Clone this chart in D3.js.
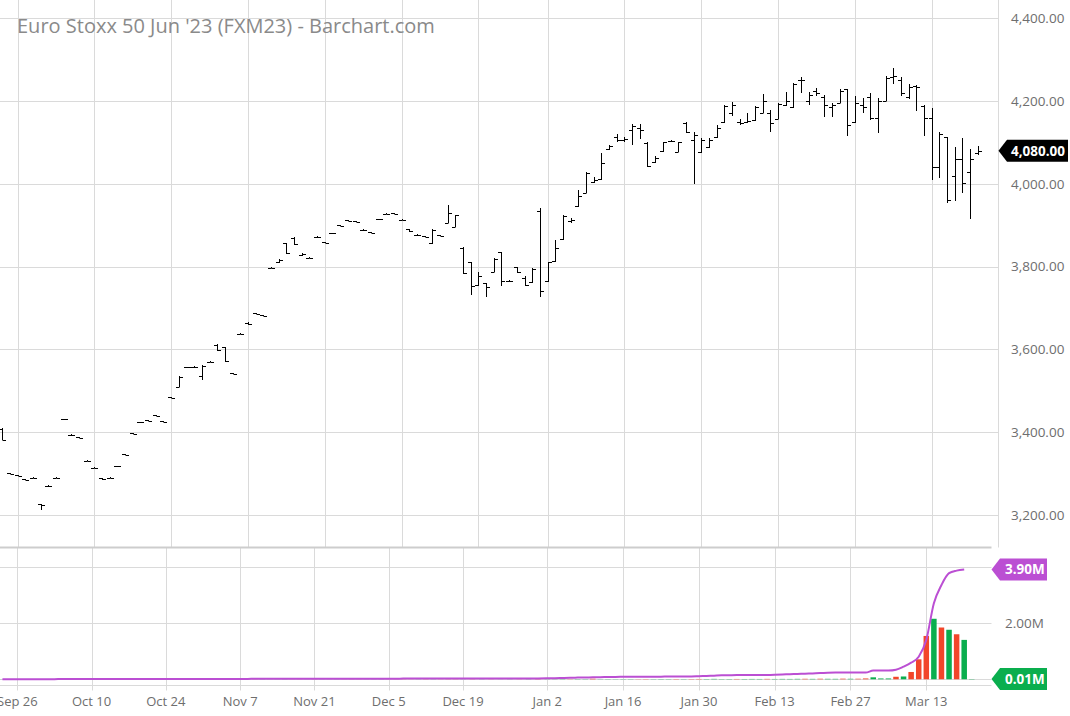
<!DOCTYPE html>
<html><head><meta charset="utf-8">
<script src="https://cdn.jsdelivr.net/npm/d3@7/dist/d3.min.js"></script>
<style>
html,body{margin:0;padding:0;background:#fff;}
svg{display:block;font-family:"Open Sans",sans-serif;}
</style></head>
<body><svg id="chart" width="1070" height="716"></svg>
<script>
// ---------- DATA ----------
const title = "Euro Stoxx 50 Jun '23 (FXM23) - Barchart.com";
const tickLabels = ["Sep 26","Oct 10","Oct 24","Nov 7","Nov 21","Dec 5","Dec 19","Jan 2","Jan 16","Jan 30","Feb 13","Feb 27","Mar 13"];
const tickBarIndex = [2,12,22,32,42,52,62,71,81,91,101,111,121];
const priceTicks = [3200,3400,3600,3800,4000,4200,4400];
const volumeTicks = [2];
const lastPrice = 4080;
const lastOI = 3.90;
const lastVolume = 0.01;

const open = [3407,3301,3296,3286,3289,3225,3270,3289,3431,3394,3388,3331,3314,3288,3290,3318,3346,3397,3424,3428,
3441,3426,3484,3510,3557,3558,3535,3570,3610,3605,3542,3638,3664,3687,3682,3797,3810,3856,3870,3828,
3821,3872,3859,3881,3900,3912,3909,3889,3883,3915,3928,3929,3913,3890,3877,3873,3857,3876,3906,3896,
3845,3810,3756,3760,3788,3835,3766,3799,3773,3762,3935,3764,3813,3866,3910,3946,3978,4005,4012,4083,
4112,4105,4130,4135,4098,4052,4080,4103,4078,4148,4105,4078,4090,4112,4150,4170,4150,4150,4155,4172,
4172,4157,4190,4185,4250,4200,4225,4210,4185,4196,4228,4150,4190,4210,4160,4200,4258,4250,4210,4236,
4188,4158,4040,4112,4019,4060,4028,4075];
const high = [3409,3302,3297,3287,3291,3227,3271,3291,3432,3395,3389,3332,3315,3289,3291,3319,3347,3398,3425,3429,
3442,3427,3485,3535,3558,3559,3561,3571,3612,3606,3543,3639,3666,3688,3683,3798,3819,3858,3872,3833,
3822,3873,3860,3882,3901,3913,3910,3890,3884,3916,3929,3930,3914,3891,3878,3874,3890,3877,3949,3925,
3847,3811,3786,3761,3820,3836,3767,3800,3776,3797,3941,3812,3865,3925,3917,3985,4028,4016,4074,4094,
4120,4112,4145,4145,4100,4066,4102,4106,4102,4150,4124,4111,4111,4143,4191,4197,4156,4171,4187,4218,
4179,4195,4221,4243,4259,4221,4232,4215,4195,4229,4229,4211,4207,4219,4207,4261,4280,4259,4242,4239,
4191,4183,4126,4114,4089,4110,4084,4092];
const low = [3380,3298,3293,3283,3288,3212,3268,3288,3430,3391,3385,3329,3312,3285,3288,3316,3344,3395,3423,3426,
3439,3424,3482,3509,3556,3556,3527,3569,3595,3569,3540,3637,3658,3685,3680,3796,3809,3831,3853,3825,
3820,3870,3857,3879,3898,3910,3907,3887,3881,3914,3926,3927,3912,3884,3875,3871,3855,3874,3905,3895,
3782,3732,3752,3726,3787,3752,3763,3784,3753,3760,3727,3762,3812,3865,3905,3944,3977,4002,4010,4082,
4100,4102,4094,4108,4040,4050,4078,4100,4076,4122,4000,4074,4086,4111,4147,4163,4142,4147,4151,4171,
4126,4156,4187,4183,4219,4191,4213,4161,4161,4195,4116,4147,4171,4155,4123,4199,4240,4211,4205,4177,
4115,4010,4014,3953,3958,3977,3915,4070];
const close = [3381,3299,3294,3284,3290,3224,3269,3290,3431,3392,3386,3330,3313,3286,3289,3317,3345,3396,3424,3427,
3440,3425,3483,3534,3557,3557,3559,3570,3598,3571,3541,3638,3660,3686,3681,3797,3817,3833,3855,3831,
3821,3871,3858,3880,3899,3911,3908,3888,3882,3915,3927,3928,3913,3885,3876,3872,3888,3875,3930,3924,
3785,3752,3777,3750,3818,3765,3765,3786,3756,3795,3740,3810,3845,3923,3912,3970,4025,4010,4050,4092,
4105,4108,4140,4130,4042,4062,4100,4104,4100,4125,4118,4105,4105,4135,4188,4190,4147,4152,4185,4200,
4147,4192,4200,4240,4250,4215,4220,4190,4190,4225,4141,4195,4185,4160,4200,4255,4260,4220,4235,4234,
4160,4040,4120,3960,4061,4002,4060,4080];
// volume and open interest, millions of contracts
const volume = [0.003,0.002,0.004,0.003,0.002,0.005,0.003,0.002,0.004,0.003,
0.002,0.003,0.004,0.002,0.003,0.004,0.002,0.003,0.005,0.003,
0.004,0.002,0.003,0.005,0.004,0.002,0.003,0.004,0.003,0.005,
0.003,0.004,0.002,0.003,0.004,0.006,0.003,0.004,0.005,0.003,
0.004,0.003,0.005,0.004,0.003,0.004,0.003,0.005,0.004,0.003,
0.004,0.005,0.003,0.004,0.005,0.003,0.004,0.006,0.005,0.004,
0.006,0.005,0.004,0.006,0.005,0.004,0.003,0.005,0.004,0.006,
0.008,0.006,0.005,0.007,0.006,0.008,0.007,0.02,0.006,0.007,
0.006,0.008,0.007,0.006,0.008,0.007,0.009,0.008,0.01,0.008,
0.009,0.012,0.01,0.015,0.009,0.01,0.012,0.011,0.013,0.012,
0.015,0.012,0.014,0.013,0.016,0.018,0.015,0.02,0.017,0.016,
0.022,0.018,0.02,0.03,0.07,0.03,0.03,0.09,0.10,0.26,
0.71,1.54,2.15,1.84,1.76,1.60,1.40,0.01];
const openInterest = [0.004,0.004,0.005,0.005,0.005,0.006,0.006,0.006,0.007,0.007,
0.007,0.008,0.008,0.008,0.009,0.009,0.01,0.01,0.01,0.011,
0.011,0.011,0.012,0.012,0.012,0.013,0.013,0.013,0.014,0.014,
0.014,0.015,0.015,0.015,0.016,0.016,0.016,0.017,0.017,0.017,
0.018,0.018,0.018,0.019,0.019,0.02,0.02,0.02,0.021,0.021,
0.022,0.022,0.023,0.023,0.024,0.024,0.025,0.025,0.026,0.026,
0.027,0.027,0.028,0.028,0.029,0.029,0.03,0.032,0.03,0.03,
0.032,0.034,0.036,0.045,0.055,0.06,0.065,0.07,0.075,0.08,
0.085,0.09,0.092,0.093,0.094,0.095,0.095,0.096,0.097,0.098,
0.1,0.11,0.12,0.13,0.14,0.145,0.15,0.15,0.15,0.15,
0.155,0.16,0.17,0.18,0.19,0.2,0.21,0.22,0.235,0.24,
0.24,0.24,0.24,0.24,0.31,0.31,0.31,0.34,0.45,0.59,
0.8,1.4,2.7,3.35,3.77,3.86,3.9];

// ---------- LAYOUT ----------
const svg = d3.select("#chart");
const topRight = 998.5, topBottom = 547.5;
const botTop = 547.5, botRight = 991.5, botAxisY = 685.5;
const gridColor = "#dadada", textColor = "#6e6e6e";
const upColor = "#0aae4e", downColor = "#f2462a", oiColor = "#bb4fd3";

const x = d3.scaleLinear().domain([0, 127]).range([2.14, 977.8]);
const y = d3.scaleLinear().domain([3200, 4400]).range([514.8, 18.3]);
const xb = d3.scaleLinear().domain([2, 62, 71, 121]).range([17.3, 463, 547.3, 926.3]);
const yv = d3.scaleLinear().domain([0, 4]).range([679.3, 566.7]);
const px = v => Math.round(v) + 0.5;

// top gridlines
const gTop = svg.append("g");
gTop.selectAll("line.h").data(priceTicks).join("line")
  .attr("x1", 0).attr("x2", topRight).attr("y1", d => px(y(d))).attr("y2", d => px(y(d)))
  .attr("stroke", gridColor);
gTop.selectAll("line.v").data(tickBarIndex).join("line")
  .attr("x1", d => px(x(d))).attr("x2", d => px(x(d))).attr("y1", 0).attr("y2", topBottom)
  .attr("stroke", gridColor);
gTop.append("line").attr("x1", topRight).attr("x2", topRight).attr("y1", 0).attr("y2", topBottom).attr("stroke", gridColor);

// price axis labels
svg.append("g").selectAll("text").data(priceTicks).join("text")
  .attr("x", 1011).attr("y", d => y(d)).attr("dy", "0.35em")
  .attr("font-size", 13.5).attr("fill", textColor)
  .text(d => d3.format(",.2f")(d));

// title
svg.append("text").attr("x", 17).attr("y", 33).attr("font-size", 20).attr("fill", "#8a8a8a").text(title);

// OHLC bars
const idx = d3.range(open.length);
const bars = svg.append("g").attr("stroke", "#000").attr("stroke-width", 1);
bars.selectAll("line.hl").data(idx).join("line")
  .attr("x1", i => px(x(i))).attr("x2", i => px(x(i)))
  .attr("y1", i => Math.round(y(high[i]))).attr("y2", i => Math.max(Math.round(y(low[i])), Math.round(y(high[i])) + 1));
bars.selectAll("line.o").data(idx).join("line")
  .attr("x1", i => px(x(i)) - 3.5).attr("x2", i => px(x(i)))
  .attr("y1", i => px(y(open[i]))).attr("y2", i => px(y(open[i])));
bars.selectAll("line.c").data(idx).join("line")
  .attr("x1", i => px(x(i))).attr("x2", i => px(x(i)) + 3.5)
  .attr("y1", i => px(y(close[i]))).attr("y2", i => px(y(close[i])));

// last price flag
const fy = y(lastPrice);
svg.append("path").attr("fill", "#000")
  .attr("d", `M${topRight},${fy} L1007,${fy-11} L1068,${fy-11} L1068,${fy+11} L1007,${fy+11} Z`);
svg.append("text").attr("x", 1011).attr("y", fy).attr("dy", "0.36em").attr("font-size", 13.5)
  .attr("font-weight", "bold").attr("fill", "#fff").text(d3.format(",.2f")(lastPrice));

// ---------- bottom panel ----------
const gB = svg.append("g");
gB.selectAll("line.h").data([0, 2, 4]).join("line")
  .attr("x1", 0).attr("x2", botRight).attr("y1", d => px(yv(d))).attr("y2", d => px(yv(d)))
  .attr("stroke", gridColor);
gB.selectAll("line.v").data(tickBarIndex).join("line")
  .attr("x1", d => px(xb(d))).attr("x2", d => px(xb(d))).attr("y1", botTop).attr("y2", botAxisY + 5)
  .attr("stroke", gridColor);
gB.append("line").attr("x1", 0).attr("x2", botRight).attr("y1", botAxisY).attr("y2", botAxisY).attr("stroke", gridColor);
gB.append("line").attr("x1", 0).attr("x2", botRight).attr("y1", botTop).attr("y2", botTop).attr("stroke", "#cdcdcd").attr("stroke-width", 2);

// volume bars
svg.append("g").selectAll("rect").data(idx).join("rect")
  .attr("x", i => xb(i) - 2.75).attr("width", 5.5)
  .attr("y", i => yv(volume[i])).attr("height", i => yv(0) - yv(volume[i]))
  .attr("fill", i => (i > 0 && close[i] < close[i-1]) ? downColor : upColor);

// open interest line
svg.append("path").datum(openInterest)
  .attr("fill", "none").attr("stroke", oiColor).attr("stroke-width", 2)
  .attr("d", d3.line().x((d, i) => xb(i)).y(d => yv(d)).curve(d3.curveMonotoneX));

// volume axis labels
svg.append("g").selectAll("text").data(volumeTicks).join("text")
  .attr("x", 1005).attr("y", d => yv(d)).attr("dy", "0.35em")
  .attr("font-size", 13.5).attr("fill", textColor).text(d => d3.format(".2f")(d) + "M");

// flags
function flag(v, color) {
  const yy = yv(v);
  svg.append("path").attr("fill", color)
    .attr("d", `M${botRight},${yy} L1000,${yy-11} L1047,${yy-11} L1047,${yy+11} L1000,${yy+11} Z`);
  svg.append("text").attr("x", 1005).attr("y", yy).attr("dy", "0.36em").attr("font-size", 13.5)
    .attr("font-weight", "bold").attr("fill", "#fff").text(d3.format(".2f")(v) + "M");
}
flag(lastOI, oiColor);
flag(lastVolume, upColor);

// date labels
svg.append("g").selectAll("text").data(tickBarIndex).join("text")
  .attr("x", d => xb(d)).attr("y", 706).attr("text-anchor", "middle")
  .attr("font-size", 13).attr("fill", textColor)
  .text((d, i) => tickLabels[i]);
</script></body></html>
